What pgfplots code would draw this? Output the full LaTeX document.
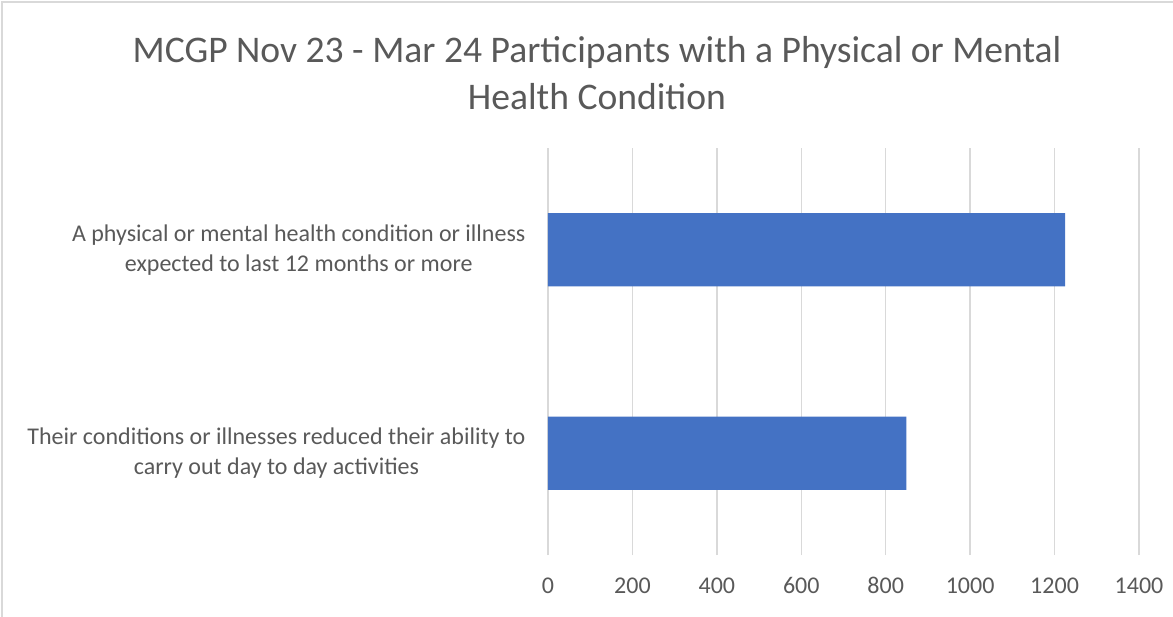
\documentclass[border=0pt]{standalone}
\usepackage{pgfplots}
\pgfplotsset{compat=1.18}
\usepackage{fontspec}
\setmainfont{Carlito}
\definecolor{barblue}{HTML}{4472C4}
\definecolor{txtgray}{HTML}{595959}
\definecolor{gridgray}{HTML}{D9D9D9}
\begin{document}
\begin{tikzpicture}[x=1pt,y=1pt]
\useasboundingbox (0,0) rectangle (1173,-616);
\draw[gridgray,line width=1.2pt] (2,-620) -- (2,-2) -- (1177,-2);
\node[text=txtgray,align=center,font=\fontsize{37.6}{47}\selectfont] at (597,-73) {MCGP Nov 23 - Mar 24 Participants with a Physical or Mental\\Health Condition};
\begin{axis}[
  at={(548pt,-555pt)}, anchor=south west,
  scale only axis, width=591pt, height=407pt,
  xbar, bar width=0.359,
  xmin=0, xmax=1400, ymin=-0.5, ymax=1.5,
  xtick={0,200,...,1400},
  ytick={0,1},
  yticklabels={{Their conditions or illnesses reduced their ability to\\carry out day to day activities},{A physical or mental health condition or illness\\expected to last 12 months or more}},
  axis line style={draw=none},
  major tick length=0pt,
  xmajorgrids, grid style={gridgray,line width=1.5pt},
  /pgf/number format/assume math mode=true,
  /pgf/number format/1000 sep={},
  xticklabel style={text=txtgray,font=\fontsize{24}{30}\selectfont,yshift=-19pt},
  yticklabel style={text=txtgray,font=\fontsize{24}{30}\selectfont,align=center,xshift=-19pt},
]
\addplot[fill=barblue,draw=none] coordinates {(849,0) (1225,1)};
\end{axis}
\end{tikzpicture}
\end{document}
